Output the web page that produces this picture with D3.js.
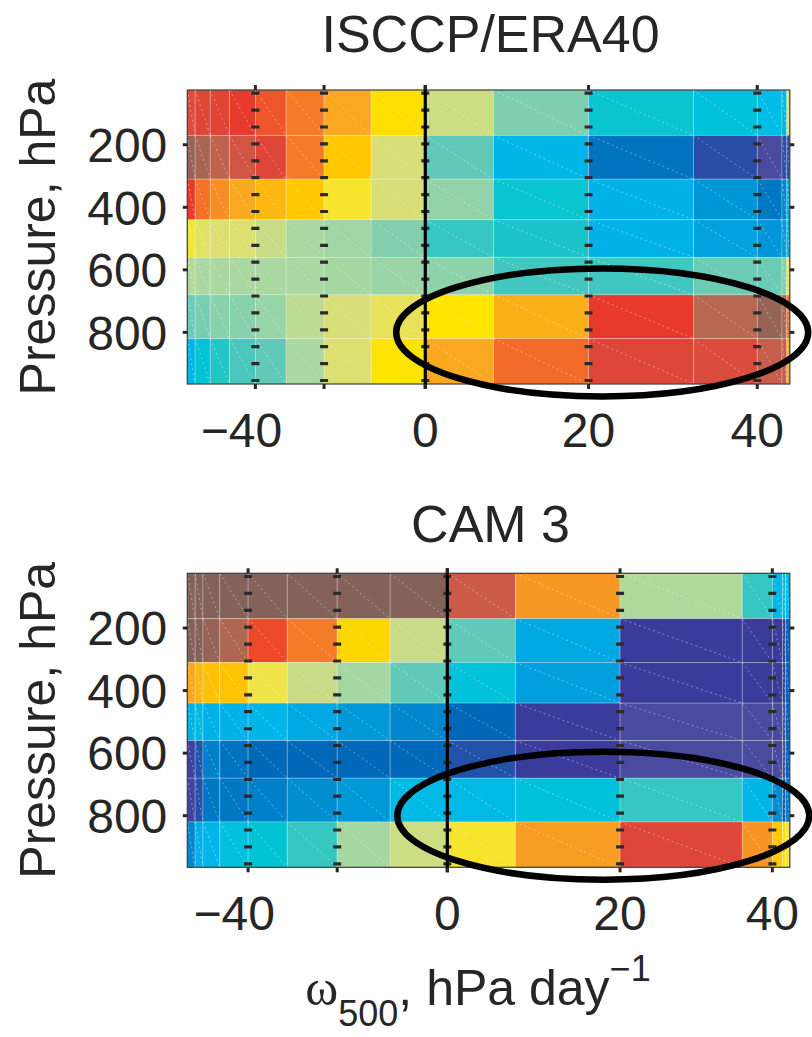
<!DOCTYPE html>
<html>
<head>
<meta charset="utf-8">
<script src="https://cdn.jsdelivr.net/npm/d3@7"></script>
<style>
  html, body { margin: 0; padding: 0; background: #fff; }
  svg { display: block; font-family: "Liberation Sans", Arial, Helvetica, sans-serif; }
</style>
</head>
<body>
<script>
// ω500 bin edges (hPa/day) and pressure-layer edges (hPa)
const omegaEdges = [-80, -70, -60, -50, -40, -30, -20, -10, 0, 10, 20, 30, 40, 50, 60, 70];
const pressureEdges = [25, 170, 310, 440, 560, 680, 820, 965];
const pressureTicks = [200, 400, 600, 800];
const omegaTicks = [-40, -20, 0, 20, 40];
const omegaTickLabels = [-40, 0, 20, 40];

// Frequency of occurrence of each ω500 bin (%); sets the width of each column
const isccpPdf = [1.3, 2.5, 3.2, 4.3, 5.1, 6.3, 7.8, 9.0, 11.3, 15.8, 17.4, 10.6, 4.1, 0.8, 0.5];
const camPdf   = [1.3, 1.3, 2.8, 4.7, 6.5, 8.3, 8.8, 9.5, 11.3, 17.4, 20.3, 5.0, 1.7, 0.5, 0.7];

// Normalised cloud amount per layer (rows: top layer first) and ω500 bin
const isccpCells = [
  [0.94, 0.935, 0.93, 0.92, 0.895, 0.86, 0.82, 0.755, 0.65, 0.545, 0.43, 0.40, 0.37, 0.35, 0.70],
  [0.99, 0.98, 0.965, 0.95, 0.935, 0.86, 0.78, 0.67, 0.52, 0.34, 0.15, 0.06, 0.0, 0.07, 0.04],
  [0.92, 0.87, 0.845, 0.82, 0.80, 0.78, 0.73, 0.67, 0.565, 0.43, 0.33, 0.24, 0.16, 0.20, 0.32],
  [0.725, 0.69, 0.68, 0.68, 0.64, 0.59, 0.58, 0.55, 0.48, 0.45, 0.33, 0.28, 0.24, 0.26, 0.32],
  [0.60, 0.59, 0.59, 0.59, 0.59, 0.59, 0.585, 0.575, 0.56, 0.49, 0.49, 0.53, 0.53, 0.55, 0.71],
  [0.53, 0.54, 0.555, 0.555, 0.57, 0.62, 0.67, 0.70, 0.75, 0.81, 0.92, 0.97, 0.99, 0.98, 0.87],
  [0.34, 0.42, 0.46, 0.50, 0.52, 0.59, 0.68, 0.75, 0.82, 0.875, 0.935, 0.94, 0.96, 0.96, 0.81]
];
const camCells = [
  [1.0, 1.0, 1.0, 1.0, 1.0, 1.0, 1.0, 1.0, 0.955, 0.835, 0.60, 0.48, 0.355, 0.36, 0.38],
  [1.0, 1.0, 0.99, 0.975, 0.905, 0.86, 0.765, 0.64, 0.52, 0.30, 0.02, 0.02, 0.02, 0.02, 0.12],
  [0.82, 0.80, 0.79, 0.785, 0.715, 0.64, 0.585, 0.52, 0.41, 0.27, 0.02, 0.02, 0.02, 0.03, 0.12],
  [0.33, 0.36, 0.32, 0.33, 0.34, 0.30, 0.25, 0.20, 0.12, 0.02, 0.0, 0.0, 0.0, 0.0, 0.12],
  [0.015, 0.08, 0.18, 0.15, 0.125, 0.125, 0.125, 0.125, 0.07, 0.02, 0.0, 0.0, 0.0, 0.0, 0.12],
  [0.01, 0.07, 0.16, 0.16, 0.18, 0.22, 0.25, 0.36, 0.36, 0.40, 0.48, 0.34, 0.22, 0.07, 0.18],
  [0.20, 0.32, 0.34, 0.39, 0.42, 0.48, 0.585, 0.65, 0.73, 0.83, 0.935, 0.84, 0.78, 0.76, 0.72]
];

const panelTitles = ["ISCCP/ERA40", "CAM 3"];

// Highlighted low-cloud regime in each panel (centre in ω500 / pressure)
const highlightOmega = [21.3, 18.4];
const highlightPressure = [800, 800];

// Colour map
const colorStops = [0.0, 0.02, 0.06, 0.12, 0.18, 0.25, 0.32, 0.37, 0.42, 0.47, 0.52, 0.55, 0.59, 0.64,
                    0.68, 0.72, 0.75, 0.78, 0.82, 0.86, 0.89, 0.92, 0.945, 0.97, 1.0];
const colorHexes = ["#4a4a9e", "#3b3b9c", "#2a4ea8", "#0066b8", "#0080c8", "#0098d8", "#00b0e8", "#00bce6",
                    "#00c4d4", "#2cc6c4", "#60c9b8", "#84d0ae", "#aad8a0", "#c8dc88", "#dce070", "#f2e444",
                    "#ffe400", "#ffc800", "#f9a820", "#f47c28", "#f05a2a", "#e83a2c", "#d85040", "#b86850",
                    "#84625a"];
const color = d3.scaleLinear().domain(colorStops).range(colorHexes).interpolate(d3.interpolateRgb).clamp(true);

const W = 812, H = 1037;
const left = 187.3, plotW = 602.5, plotH = 294;
const panelTops = [90, 573.3];
const titleOffsets = [38, 31];
const ink = "#262626";

const svg = d3.select("body").append("svg").attr("width", W).attr("height", H);
svg.append("rect").attr("width", W).attr("height", H).attr("fill", "#fff");

function fmt(d) { return d < 0 ? "\u2212" + Math.abs(d) : String(d); }

function drawPanel(k, pdf, cells) {
  const g = svg.append("g").attr("transform", `translate(${left},${panelTops[k]})`);

  // column positions follow the cumulative ω500 distribution
  const cum = [0, ...d3.cumsum(pdf)];
  const total = cum[cum.length - 1];
  const x = d3.scaleLinear().domain(omegaEdges).range(cum.map(c => c / total * plotW));
  const y = d3.scaleLinear().domain([pressureEdges[0], pressureEdges[pressureEdges.length - 1]]).range([0, plotH]);

  const flat = [];
  cells.forEach((row, i) => row.forEach((v, j) => flat.push({ i, j, v })));

  const cg = g.append("g");
  cg.selectAll("rect").data(flat).join("rect")
    .attr("x", d => x(omegaEdges[d.j]))
    .attr("y", d => y(pressureEdges[d.i]))
    .attr("width", d => x(omegaEdges[d.j + 1]) - x(omegaEdges[d.j]))
    .attr("height", d => y(pressureEdges[d.i + 1]) - y(pressureEdges[d.i]))
    .attr("fill", d => color(d.v))
    .attr("stroke", "rgba(255,255,255,0.3)")
    .attr("stroke-width", 0.8);

  // faint shading-mesh diagonals
  cg.selectAll("line.diag").data(flat).join("line")
    .attr("class", "diag")
    .attr("x1", d => x(omegaEdges[d.j]))
    .attr("y1", d => y(pressureEdges[d.i]))
    .attr("x2", d => x(omegaEdges[d.j + 1]))
    .attr("y2", d => y(pressureEdges[d.i + 1]))
    .attr("stroke", "rgba(255,255,255,0.45)")
    .attr("stroke-width", 0.9)
    .attr("stroke-dasharray", "2 3");

  // frame
  g.append("rect").attr("width", plotW).attr("height", plotH)
    .attr("fill", "none").attr("stroke", "#3a3a3a").attr("stroke-width", 1.2);

  // dashed reference lines at the ω500 ticks
  g.selectAll("line.ref").data(omegaTicks).join("line")
    .attr("class", "ref")
    .attr("x1", d => x(d)).attr("x2", d => x(d))
    .attr("y1", 0).attr("y2", plotH)
    .attr("stroke", "#2b2b2b").attr("stroke-width", 8)
    .attr("stroke-dasharray", "3.2 13.7")
    .attr("stroke-dashoffset", 15.3);

  // solid zero line
  g.append("line")
    .attr("x1", x(0)).attr("x2", x(0))
    .attr("y1", -5).attr("y2", plotH + 5)
    .attr("stroke", "#000").attr("stroke-width", 3.2);

  // x ticks (top and bottom, outward)
  [[0, -5], [plotH, plotH + 5]].forEach(([a, b]) => {
    g.selectAll(null).data(omegaTicks).join("line")
      .attr("x1", d => x(d)).attr("x2", d => x(d))
      .attr("y1", a).attr("y2", b)
      .attr("stroke", ink).attr("stroke-width", 3);
  });
  // y ticks (left and right, outward)
  [[0, -4.5], [plotW, plotW + 4.5]].forEach(([a, b]) => {
    g.selectAll(null).data(pressureTicks).join("line")
      .attr("x1", a).attr("x2", b)
      .attr("y1", d => y(d)).attr("y2", d => y(d))
      .attr("stroke", ink).attr("stroke-width", 3);
  });

  // tick labels
  g.selectAll("text.xt").data(omegaTickLabels).join("text")
    .attr("class", "xt")
    .attr("x", d => x(d)).attr("y", plotH + 63)
    .attr("dx", d => d < 0 ? "-0.29em" : 0)
    .attr("text-anchor", "middle")
    .attr("font-size", 48).attr("fill", ink)
    .text(fmt);

  g.selectAll("text.yt").data(pressureTicks).join("text")
    .attr("class", "yt")
    .attr("x", -20).attr("y", d => y(d))
    .attr("dy", "0.36em")
    .attr("text-anchor", "end")
    .attr("font-size", 48).attr("fill", ink)
    .text(d => d);

  // axis label
  g.append("text")
    .attr("transform", `translate(${55 - left},${plotH / 2}) rotate(-90)`)
    .attr("text-anchor", "middle")
    .attr("font-size", 50).attr("fill", ink)
    .text("Pressure, hPa");

  // panel title
  g.append("text")
    .attr("x", plotW / 2 + 2).attr("y", -titleOffsets[k])
    .attr("text-anchor", "middle")
    .attr("font-size", 52).attr("fill", ink)
    .text(panelTitles[k]);

  // highlight ellipse
  g.append("ellipse")
    .attr("cx", x(highlightOmega[k]))
    .attr("cy", y(highlightPressure[k]))
    .attr("rx", 206).attr("ry", 64)
    .attr("fill", "none").attr("stroke", "#000").attr("stroke-width", 6.5);
}

drawPanel(0, isccpPdf, isccpCells);
drawPanel(1, camPdf, camCells);

// shared x-axis label: ω500, hPa day−1
const xl = svg.append("text")
  .attr("x", 478).attr("y", 1005)
  .attr("text-anchor", "middle")
  .attr("font-size", 50).attr("fill", ink);
xl.append("tspan").attr("font-family", "'Liberation Serif', 'Times New Roman', serif").text("\u03c9");
xl.append("tspan").attr("font-size", 36).attr("dy", 21).text("500");
xl.append("tspan").attr("dy", -21).text(", hPa day");
xl.append("tspan").attr("font-size", 36).attr("dy", -24).text("\u22121");
</script>
</body>
</html>
